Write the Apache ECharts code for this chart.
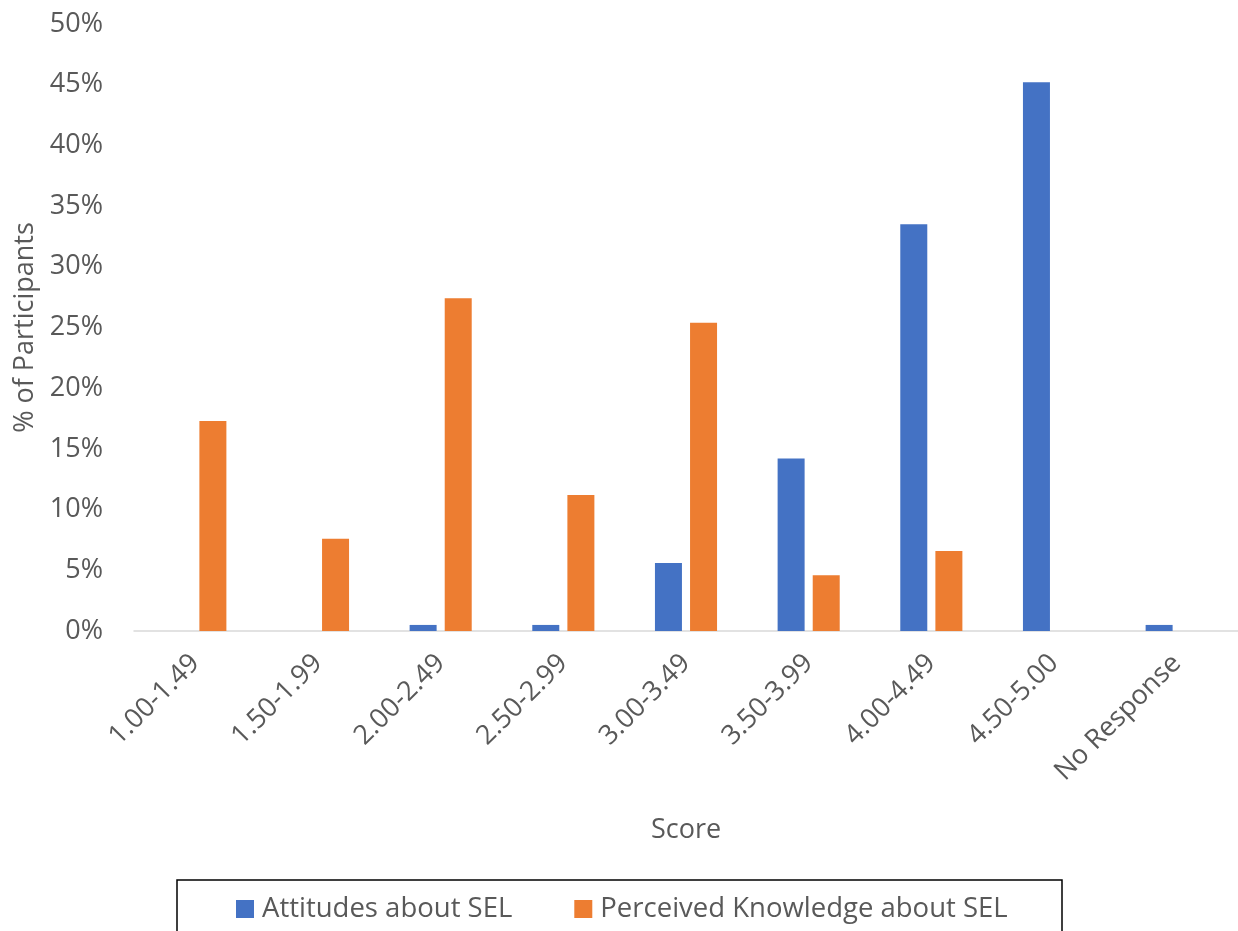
<!DOCTYPE html>
<html>
<head>
<meta charset="utf-8">
<title>SEL Scores</title>
<script src="https://cdn.jsdelivr.net/npm/echarts@6/dist/echarts.min.js"></script>
<style>
  html, body { margin: 0; padding: 0; background: #ffffff; }
  #chart { width: 1238px; height: 931px; }
</style>
</head>
<body>
<div id="chart"></div>
<script>
// Score bands on the x axis
const categories = ['1.00-1.49', '1.50-1.99', '2.00-2.49', '2.50-2.99', '3.00-3.49',
                    '3.50-3.99', '4.00-4.49', '4.50-5.00', 'No Response'];
// Share of participants (%) per band
const attitudes = [0, 0, 0.5, 0.5, 5.6, 14.2, 33.5, 45.2, 0.5];
const knowledge = [17.3, 7.6, 27.4, 11.2, 25.4, 4.6, 6.6, 0, 0];
const seriesNames = ['Attitudes about SEL', 'Perceived Knowledge about SEL'];

const textColor = '#595959';
const fontFamily = '"Open Sans", "Noto Sans", sans-serif';
const fontSize = 27;

const chart = echarts.init(document.getElementById('chart'));
chart.setOption({
  animation: false,
  backgroundColor: '#ffffff',
  textStyle: { fontFamily: fontFamily, color: textColor },
  grid: { left: 134, right: 0, top: 24, bottom: 300, containLabel: false },
  legend: {
    left: 236, top: 895, padding: 0,
    itemWidth: 18, itemHeight: 18, itemGap: 62,
    icon: 'rect',
    textStyle: { fontSize: 27.5, color: textColor, fontFamily: fontFamily, padding: [0, 0, 0, 3] },
    data: seriesNames
  },
  graphic: [{
    type: 'rect',
    shape: { x: 177, y: 880, width: 885, height: 70 },
    style: { fill: 'none', stroke: '#000000', lineWidth: 1.5 },
    silent: true
  }],
  xAxis: {
    type: 'category',
    data: categories,
    name: 'Score',
    nameLocation: 'middle',
    nameGap: 186,
    nameTextStyle: { fontSize: fontSize, color: textColor, fontFamily: fontFamily },
    axisLine: { lineStyle: { color: '#d9d9d9', width: 1.5 } },
    axisTick: { show: false },
    axisLabel: { rotate: 45, fontSize: fontSize, color: textColor, margin: 28, interval: 0, fontFamily: fontFamily }
  },
  yAxis: {
    type: 'value',
    min: 0, max: 50, interval: 5,
    name: '% of Participants',
    nameLocation: 'middle',
    nameGap: 93,
    nameRotate: 90,
    nameTextStyle: { fontSize: fontSize, color: textColor, fontFamily: fontFamily },
    axisLine: { show: false },
    axisTick: { show: false },
    splitLine: { show: false },
    axisLabel: { formatter: '{value}%', fontSize: fontSize, color: textColor, margin: 31, fontFamily: fontFamily }
  },
  series: [
    { name: seriesNames[0], type: 'bar', data: attitudes, barWidth: 27, barGap: '30%',
      itemStyle: { color: '#4472C4' } },
    { name: seriesNames[1], type: 'bar', data: knowledge, barWidth: 27, barGap: '30%',
      itemStyle: { color: '#ED7D31' } }
  ]
});
</script>
</body>
</html>
